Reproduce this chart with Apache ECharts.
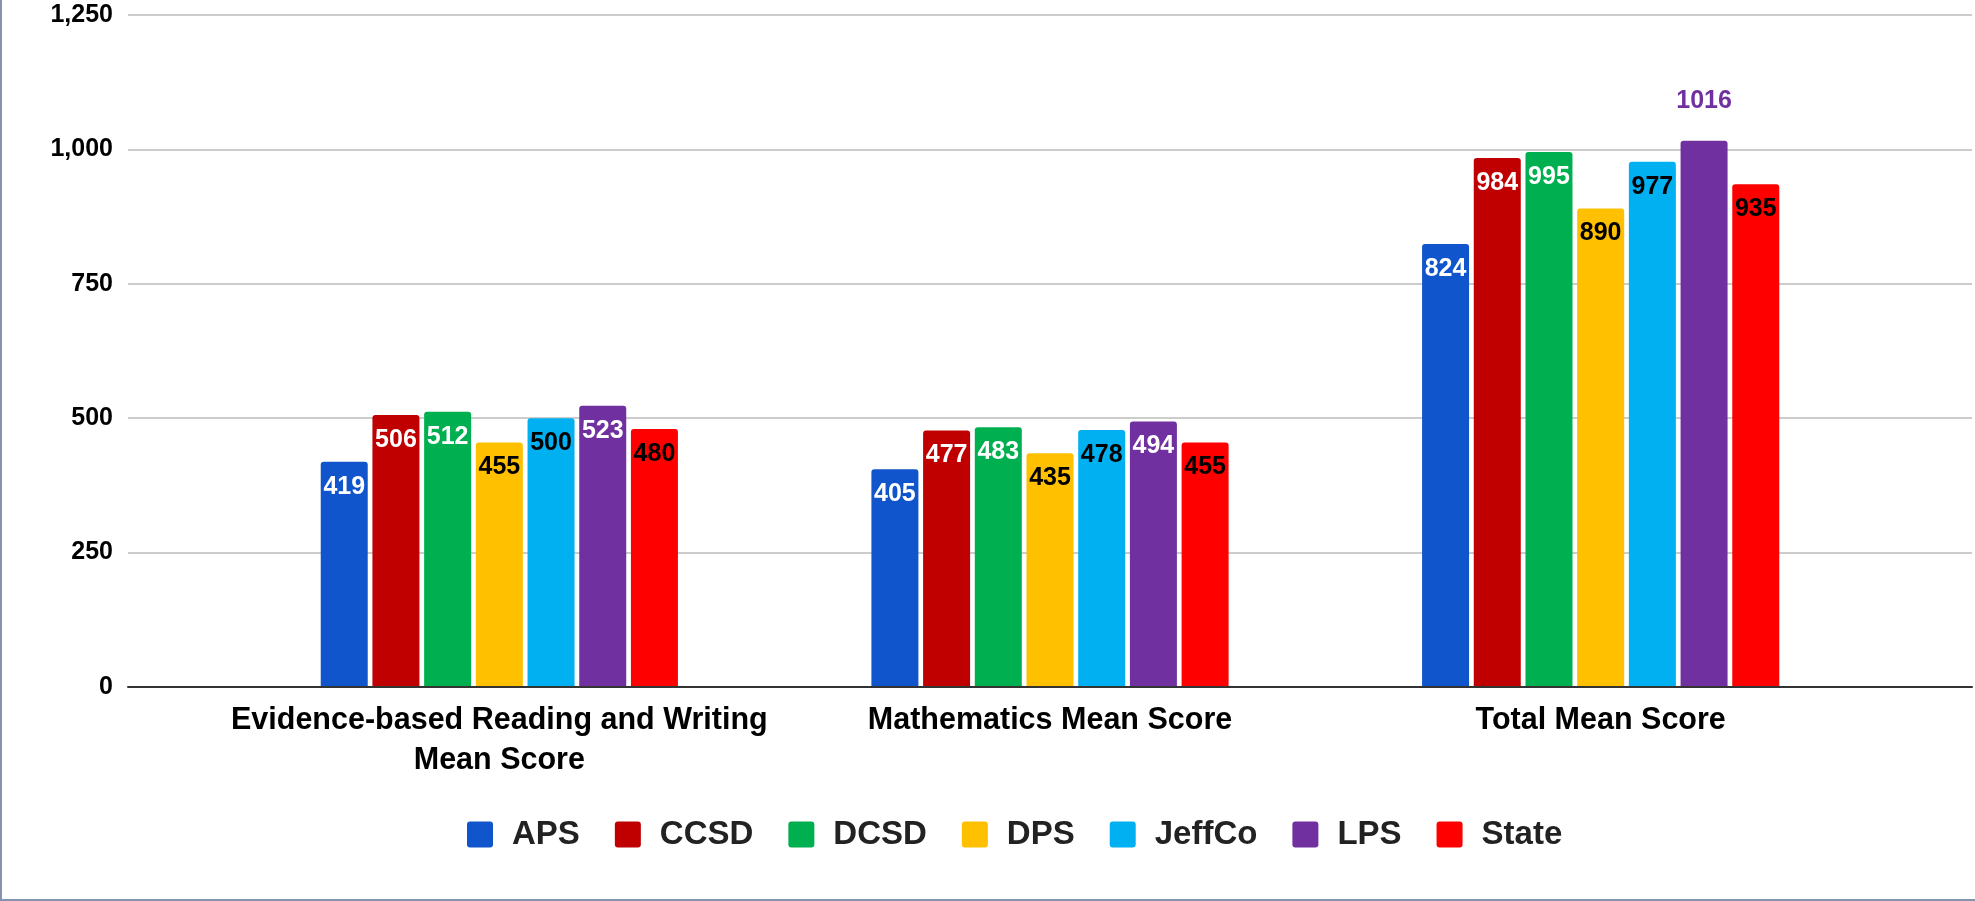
<!DOCTYPE html>
<html>
<head>
<meta charset="utf-8">
<script src="https://cdn.jsdelivr.net/npm/echarts@6/dist/echarts.min.js"></script>
<style>
  html, body { margin: 0; padding: 0; background: #fff; }
  #echart-one { width: 1975px; height: 901px; }
  #frame {
    position: absolute; left: 0; top: 0; width: 1975px; height: 901px;
    box-sizing: border-box; border-left: 2px solid #8593ad; border-bottom: 2px solid #8593ad;
    pointer-events: none;
  }
</style>
</head>
<body>
<div id="echart-one"></div>
<div id="frame"></div>
<script>
  var categories = ["Evidence-based Reading and Writing\nMean Score", "Mathematics Mean Score", "Total Mean Score"];
  var seriesNames = ["APS", "CCSD", "DCSD", "DPS", "JeffCo", "LPS", "State"];
  var aps = [419, 405, 824];
  var ccsd = [506, 477, 984];
  var dcsd = [512, 483, 995];
  var dps = [455, 435, 890];
  var jeffco = [500, 478, 977];
  var lps = [523, 494, 1016];
  var state = [480, 455, 935];
  var yTicks = [0, 250, 500, 750, 1000, 1250];

  var colors = ["#1155cc", "#c00000", "#00b050", "#ffc000", "#00b0f0", "#7030a0", "#ff0000"];
  var labelColors = ["#fff", "#fff", "#fff", "#000", "#000", "#fff", "#000"];
  var values = [aps, ccsd, dcsd, dps, jeffco, lps, state];
  var font = "'Liberation Sans', Arial, sans-serif";

  var chartDom = document.getElementById('echart-one');
  var myChart = echarts.init(chartDom);

  var series = values.map(function (data, i) {
    return {
      name: seriesNames[i],
      type: 'bar',
      xAxisIndex: 1,
      yAxisIndex: 1,
      barWidth: 47,
      barGap: '10%',
      itemStyle: { color: colors[i], borderRadius: [3, 3, 0, 0] },
      label: {
        show: true,
        position: 'insideTop',
        distance: 12,
        color: labelColors[i],
        fontFamily: font,
        fontWeight: 'bold',
        fontSize: 25,
        lineHeight: 26
      },
      data: data.map(function (v, j) {
        // tallest bar gets its label above, in its own colour
        if (seriesNames[i] === 'LPS' && j === 2) {
          return { value: v, label: { position: 'top', distance: 27, color: colors[i] } };
        }
        return v;
      })
    };
  });

  var option = {
    backgroundColor: '#fff',
    animation: false,
    color: colors,
    legend: {
      left: 462,
      top: 813,
      icon: 'path://M3,0 H23 Q26,0 26,3 V23 Q26,26 23,26 H3 Q0,26 0,23 V3 Q0,0 3,0 Z',
      itemWidth: 26,
      itemHeight: 26,
      itemGap: 35,
      textStyle: {
        fontFamily: font,
        fontWeight: 'bold',
        fontSize: 33,
        lineHeight: 32,
        color: '#222',
        padding: [0, 0, 0, 14]
      },
      data: seriesNames
    },
    grid: [
      { left: 128, right: 3, top: 15, bottom: 214 },
      { left: 224, right: 99, top: 15, bottom: 214 }
    ],
    xAxis: [
      {
        type: 'value',
        gridIndex: 0,
        min: 0,
        max: 1,
        z: 3,
        axisLine: { show: true, lineStyle: { color: '#333', width: 2 } },
        axisTick: { show: false },
        axisLabel: { show: false },
        splitLine: { show: false }
      },
      {
        type: 'category',
        gridIndex: 1,
        data: categories,
        axisLine: { show: false },
        axisTick: { show: false },
        axisLabel: {
          interval: 0,
          margin: 14,
          color: '#000',
          fontFamily: font,
          fontWeight: 'bold',
          fontSize: 30.5,
          lineHeight: 40
        }
      }
    ],
    yAxis: [
      {
        type: 'value',
        gridIndex: 0,
        min: yTicks[0],
        max: yTicks[yTicks.length - 1],
        interval: 250,
        axisLine: { show: false },
        axisTick: { show: false },
        axisLabel: {
          margin: 15,
          color: '#000',
          fontFamily: font,
          fontWeight: 'bold',
          fontSize: 25,
          formatter: function (v) {
            return v.toLocaleString('en-US');
          }
        },
        splitLine: { lineStyle: { color: '#cccccc', width: 2 } }
      },
      {
        type: 'value',
        gridIndex: 1,
        min: yTicks[0],
        max: yTicks[yTicks.length - 1],
        interval: 250,
        show: false
      }
    ],
    series: series
  };

  option && myChart.setOption(option);
</script>
</body>
</html>
